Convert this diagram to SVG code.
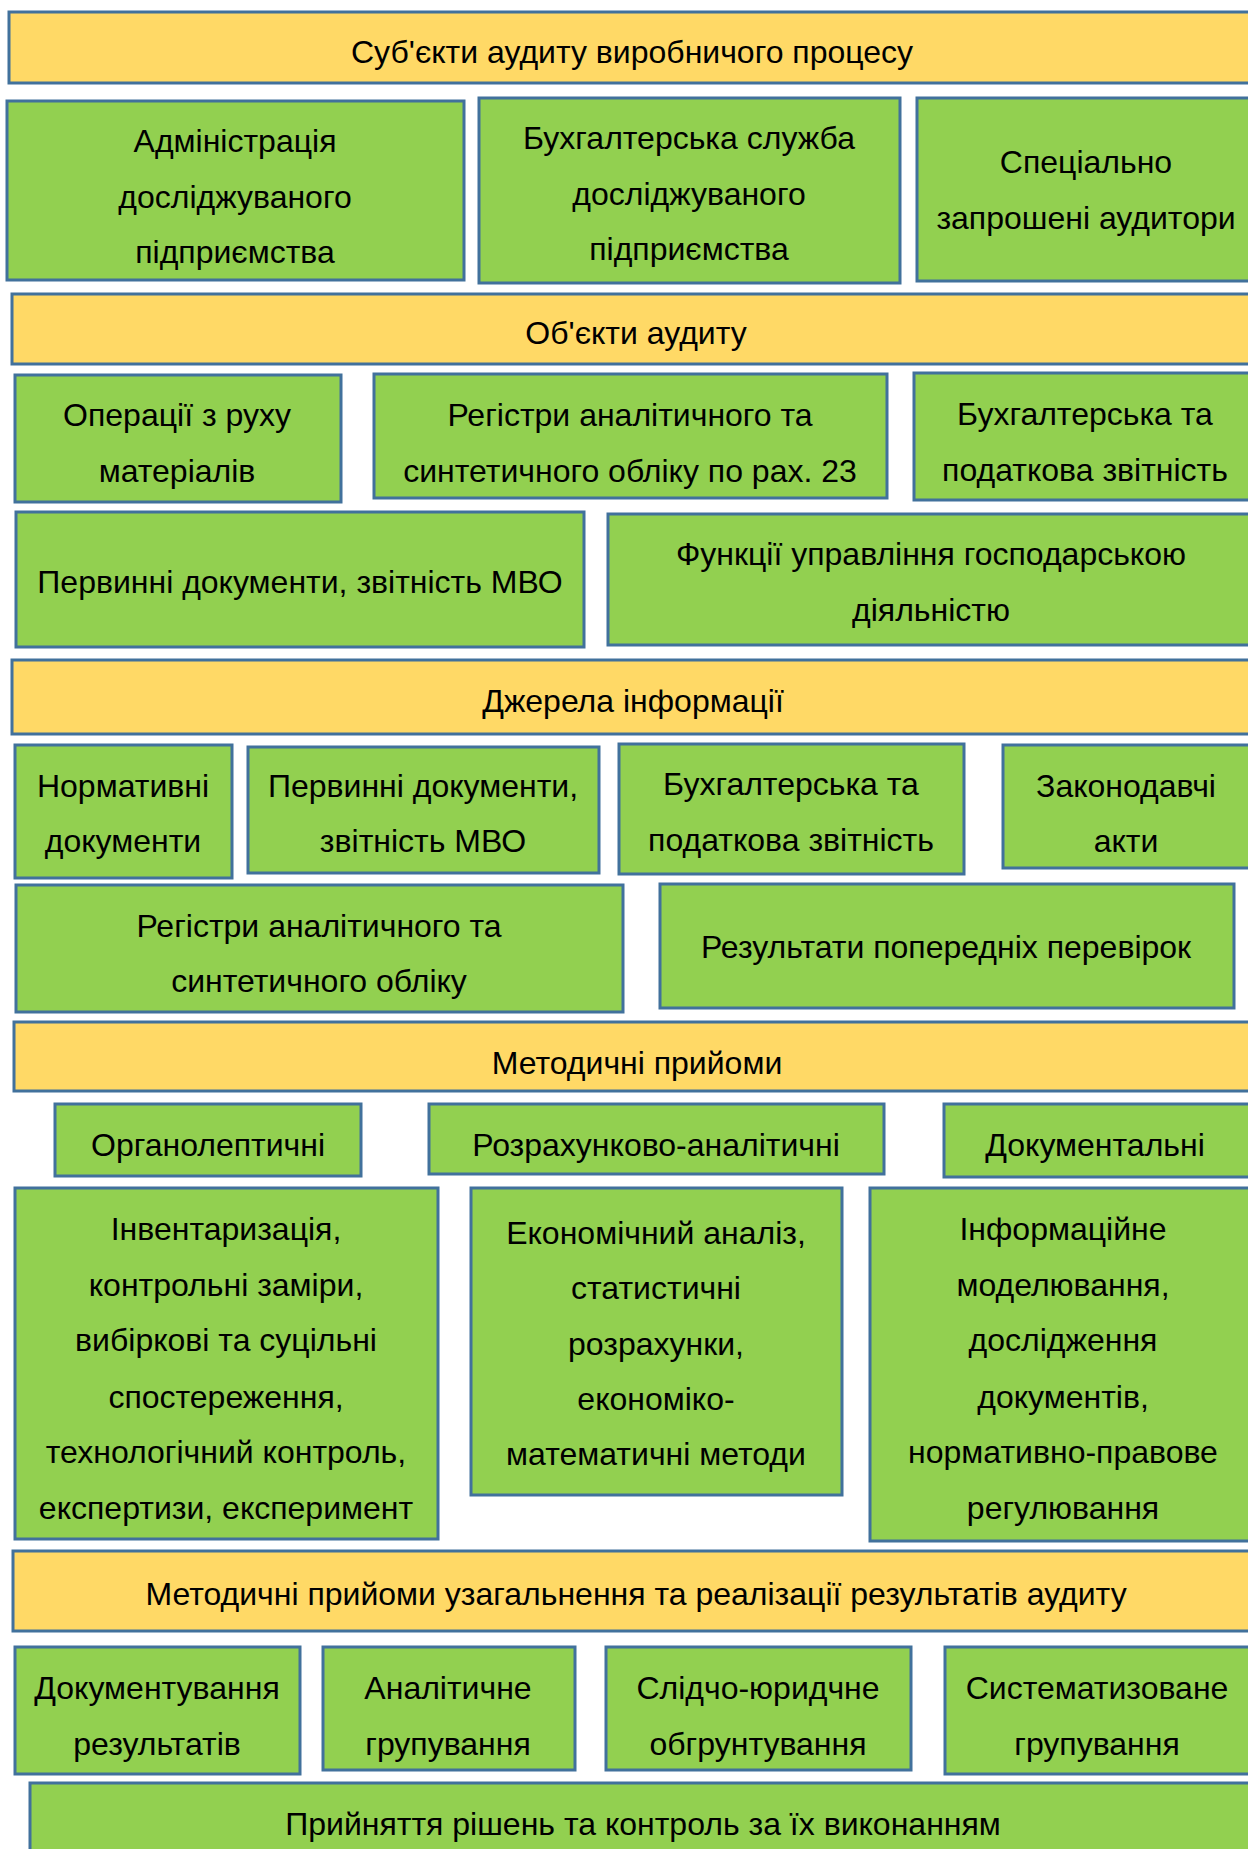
<svg xmlns="http://www.w3.org/2000/svg" width="1248" height="1849" viewBox="0 0 1248 1849">
<style>
.h{fill:#FFD966;stroke:#41719C;stroke-width:3}
.g{fill:#92D050;stroke:#41719C;stroke-width:3}
text{font-family:"Liberation Sans",Arial,sans-serif;font-size:32px;fill:#000;text-anchor:middle}
</style>
<rect width="1248" height="1849" fill="#fff"/>
<g transform="translate(0,1)">
<g id="n1"><rect class="h" x="9" y="11" width="1251" height="71"/><text x="632" y="62">Суб'єкти аудиту виробничого процесу</text></g>
<g id="n2"><rect class="g" x="7" y="100" width="457" height="179"/><text x="235" y="151">Адміністрація</text><text x="235" y="207">досліджуваного</text><text x="235" y="262">підприємства</text></g>
<g id="n3"><rect class="g" x="479" y="97" width="421" height="185"/><text x="689" y="148">Бухгалтерська служба</text><text x="689" y="204">досліджуваного</text><text x="689" y="259">підприємства</text></g>
<g id="n4"><rect class="g" x="917" y="97" width="343" height="183"/><text x="1086" y="172">Спеціально</text><text x="1086" y="228">запрошені аудитори</text></g>
<g id="n5"><rect class="h" x="12" y="293" width="1248" height="70"/><text x="636" y="343">Об'єкти аудиту</text></g>
<g id="n6"><rect class="g" x="15" y="374" width="326" height="127"/><text x="177" y="425">Операції з руху</text><text x="177" y="481">матеріалів</text></g>
<g id="n7"><rect class="g" x="374" y="373" width="513" height="124"/><text x="630" y="425">Регістри аналітичного та</text><text x="630" y="481">синтетичного обліку по рах. 23</text></g>
<g id="n8"><rect class="g" x="914" y="372" width="346" height="127"/><text x="1085" y="424">Бухгалтерська та</text><text x="1085" y="480">податкова звітність</text></g>
<g id="n9"><rect class="g" x="16" y="511" width="568" height="135"/><text x="300" y="592">Первинні документи, звітність МВО</text></g>
<g id="n10"><rect class="g" x="608" y="513" width="652" height="131"/><text x="931" y="564">Функції управління господарською</text><text x="931" y="620">діяльністю</text></g>
<g id="n11"><rect class="h" x="12" y="659" width="1248" height="74"/><text x="633" y="711">Джерела інформації</text></g>
<g id="n12"><rect class="g" x="15" y="744" width="217" height="133"/><text x="123" y="796">Нормативні</text><text x="123" y="851">документи</text></g>
<g id="n13"><rect class="g" x="248" y="746" width="351" height="126"/><text x="423" y="796">Первинні документи,</text><text x="423" y="851">звітність МВО</text></g>
<g id="n14"><rect class="g" x="619" y="743" width="345" height="130"/><text x="791" y="794">Бухгалтерська та</text><text x="791" y="850">податкова звітність</text></g>
<g id="n15"><rect class="g" x="1003" y="744" width="257" height="123"/><text x="1126" y="796">Законодавчі</text><text x="1126" y="851">акти</text></g>
<g id="n16"><rect class="g" x="16" y="884" width="607" height="127"/><text x="319" y="936">Регістри аналітичного та</text><text x="319" y="991">синтетичного обліку</text></g>
<g id="n17"><rect class="g" x="660" y="883" width="574" height="124"/><text x="946" y="957">Результати попередніх перевірок</text></g>
<g id="n18"><rect class="h" x="14" y="1021" width="1246" height="69"/><text x="637" y="1073">Методичні прийоми</text></g>
<g id="n19"><rect class="g" x="55" y="1103" width="306" height="72"/><text x="208" y="1155">Органолептичні</text></g>
<g id="n20"><rect class="g" x="429" y="1103" width="455" height="70"/><text x="656" y="1155">Розрахунково-аналітичні</text></g>
<g id="n21"><rect class="g" x="944" y="1103" width="316" height="73"/><text x="1095" y="1155">Документальні</text></g>
<g id="n22"><rect class="g" x="15" y="1187" width="423" height="351"/><text x="226" y="1239">Інвентаризація,</text><text x="226" y="1295">контрольні заміри,</text><text x="226" y="1350">вибіркові та суцільні</text><text x="226" y="1407">спостереження,</text><text x="226" y="1462">технологічний контроль,</text><text x="226" y="1518">експертизи, експеримент</text></g>
<g id="n23"><rect class="g" x="471" y="1187" width="371" height="307"/><text x="656" y="1243">Економічний аналіз,</text><text x="656" y="1298">статистичні</text><text x="656" y="1354">розрахунки,</text><text x="656" y="1409">економіко-</text><text x="656" y="1464">математичні методи</text></g>
<g id="n24"><rect class="g" x="870" y="1187" width="390" height="353"/><text x="1063" y="1239">Інформаційне</text><text x="1063" y="1295">моделювання,</text><text x="1063" y="1350">дослідження</text><text x="1063" y="1407">документів,</text><text x="1063" y="1462">нормативно-правове</text><text x="1063" y="1518">регулювання</text></g>
<g id="n25"><rect class="h" x="13" y="1550" width="1247" height="80"/><text x="636" y="1604">Методичні прийоми узагальнення та реалізації результатів аудиту</text></g>
<g id="n26"><rect class="g" x="15" y="1646" width="285" height="127"/><text x="157" y="1698">Документування</text><text x="157" y="1754">результатів</text></g>
<g id="n27"><rect class="g" x="323" y="1646" width="252" height="123"/><text x="448" y="1698">Аналітичне</text><text x="448" y="1754">групування</text></g>
<g id="n28"><rect class="g" x="606" y="1646" width="305" height="123"/><text x="758" y="1698">Слідчо-юридчне</text><text x="758" y="1754">обгрунтування</text></g>
<g id="n29"><rect class="g" x="945" y="1646" width="315" height="127"/><text x="1097" y="1698">Систематизоване</text><text x="1097" y="1754">групування</text></g>
<g id="n30"><rect class="g" x="30" y="1782" width="1230" height="80"/><text x="643" y="1834">Прийняття рішень та контроль за їх виконанням</text></g>
</g>
<g id="connectors"/>
</svg>
